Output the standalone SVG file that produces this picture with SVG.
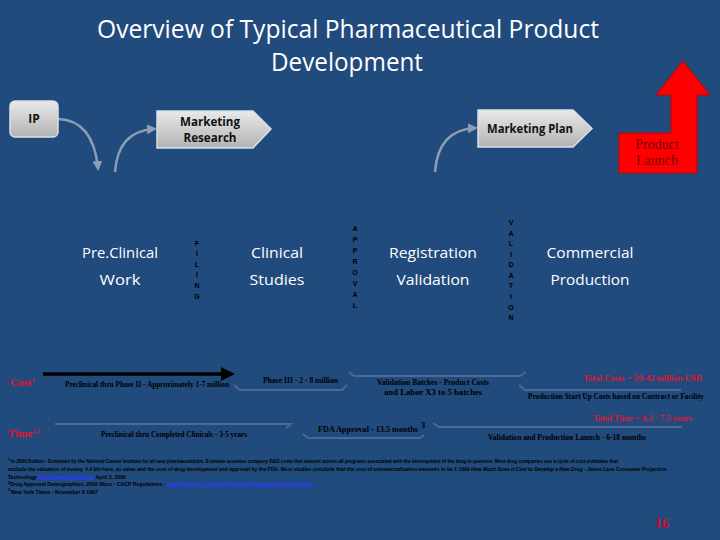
<svg xmlns="http://www.w3.org/2000/svg" width="720" height="540" viewBox="0 0 720 540">
<defs>
<linearGradient id="gbox" x1="0" y1="0" x2="0" y2="1">
<stop offset="0" stop-color="#e9e9e9"/><stop offset="1" stop-color="#b3b3b3"/>
</linearGradient>
<marker id="ah" viewBox="0 0 10 10" refX="7" refY="5" markerWidth="4" markerHeight="4" orient="auto"><path d="M0,0 L10,5 L0,10 Z" fill="#8c9db6"/></marker>
<marker id="bh" viewBox="0 0 10 10" refX="8" refY="5" markerWidth="4" markerHeight="4" orient="auto"><path d="M0,0 L10,5 L0,10 Z" fill="#000"/></marker>
<style>
.title{font-family:"Open Sans","Noto Sans",sans-serif;font-size:25px;fill:#fff;text-anchor:middle}
.box{fill:url(#gbox);stroke:#d9dee8;stroke-width:1.5}
.bl{font-family:"Open Sans","Noto Sans",sans-serif;font-weight:bold;font-size:12px;fill:#111;text-anchor:middle}
.stage{font-family:"Open Sans","Noto Sans",sans-serif;font-size:15px;fill:#fff;text-anchor:middle}
.vert{font-family:"Liberation Sans",sans-serif;font-weight:bold;font-size:7px;fill:#000;text-anchor:middle}
.sm{font-family:"Liberation Serif",serif;font-size:8.5px;font-weight:bold;fill:#000}
.smc{font-family:"Liberation Serif",serif;font-size:8.5px;font-weight:bold;fill:#000;text-anchor:middle}
.red{font-family:"Liberation Serif",serif;font-weight:bold;fill:#e8102e}
.conn{fill:none;stroke:#8c9db6;stroke-width:2.5}
.br{fill:none;stroke:#4b6a98;stroke-width:2}
.fn{font-family:"Liberation Sans",sans-serif;font-size:5.2px;font-weight:bold;fill:#000}
.sup{font-family:"Liberation Sans",sans-serif;font-size:4px;font-weight:bold;fill:#000}
.lk{fill:#2b3bff;text-decoration:underline}
</style>
</defs>
<rect width="720" height="540" fill="#214a7d"/>
<g id="title">
<text class="title" x="348" y="38" textLength="502" lengthAdjust="spacingAndGlyphs">Overview of Typical Pharmaceutical Product</text>
<text class="title" x="347" y="71" textLength="152" lengthAdjust="spacingAndGlyphs">Development</text>
</g>
<g id="connectors">
<path class="conn" d="M58,119 Q93,120 98,168" marker-end="url(#ah)"/>
<path class="conn" d="M115,172 Q118,131 154,129" marker-end="url(#ah)"/>
<path class="conn" d="M435,172 Q438,130 475,128" marker-end="url(#ah)"/>
<line x1="43" y1="374" x2="232" y2="374" stroke="#000" stroke-width="3.5" marker-end="url(#bh)"/>
<polyline class="br" points="234,385 240,390 342,390 347,385"/>
<polyline class="br" points="349,372 354,376 520,376 526,372"/>
<polyline class="br" points="519,385 525,390 681,390"/>
<polyline class="br" points="55,424 291,424 286,428"/>
<polyline class="br" points="303,434 308,438 420,438 424,435"/>
<polyline class="br" points="433,423 439,427 682,427"/>
</g>
<g id="ip">
<rect class="box" x="10" y="101" width="48" height="36" rx="5"/>
<text class="bl" x="34" y="123">IP</text>
</g>
<g id="marketing-research">
<path class="box" d="M157,111 H253 L271,129 L253,148 H157 Z"/>
<text class="bl" x="210" y="126" textLength="60" lengthAdjust="spacingAndGlyphs">Marketing</text>
<text class="bl" x="210" y="142" textLength="53" lengthAdjust="spacingAndGlyphs">Research</text>
</g>
<g id="marketing-plan">
<path class="box" d="M478,110 H573 L592,128.5 L573,147 H478 Z"/>
<text class="bl" x="530" y="133" textLength="86" lengthAdjust="spacingAndGlyphs">Marketing Plan</text>
</g>
<g id="product-launch">
<path d="M619,133 H671 V95 H656 L683,61 L710,95 H697 V173 H619 Z" fill="#ff0000" stroke="#c00000" stroke-width="1"/>
<text x="657" y="149" font-family="Liberation Serif,serif" font-size="14" fill="#7a0000" text-anchor="middle">Product</text>
<text x="657" y="165" font-family="Liberation Serif,serif" font-size="14" fill="#7a0000" text-anchor="middle">Launch</text>
</g>
<g id="preclinical">
<text class="stage" x="120" y="258" textLength="76" lengthAdjust="spacingAndGlyphs">Pre.Clinical</text>
<text class="stage" x="120" y="285" textLength="41" lengthAdjust="spacingAndGlyphs">Work</text>
</g>
<g id="clinical">
<text class="stage" x="277" y="258" textLength="52" lengthAdjust="spacingAndGlyphs">Clinical</text>
<text class="stage" x="277" y="285" textLength="55" lengthAdjust="spacingAndGlyphs">Studies</text>
</g>
<g id="registration">
<text class="stage" x="433" y="258" textLength="88" lengthAdjust="spacingAndGlyphs">Registration</text>
<text class="stage" x="433" y="285" textLength="73" lengthAdjust="spacingAndGlyphs">Validation</text>
</g>
<g id="commercial">
<text class="stage" x="590" y="258" textLength="87" lengthAdjust="spacingAndGlyphs">Commercial</text>
<text class="stage" x="590" y="285" textLength="79" lengthAdjust="spacingAndGlyphs">Production</text>
</g>
<g id="filing">
<text class="vert" x="197" y="246">F</text><text class="vert" x="197" y="256">I</text><text class="vert" x="197" y="267">L</text><text class="vert" x="197" y="277">I</text><text class="vert" x="197" y="288">N</text><text class="vert" x="197" y="299">G</text>
</g>
<g id="approval">
<text class="vert" x="355" y="231">A</text><text class="vert" x="355" y="242">P</text><text class="vert" x="355" y="253">P</text><text class="vert" x="355" y="264">R</text><text class="vert" x="355" y="275">O</text><text class="vert" x="355" y="286">V</text><text class="vert" x="355" y="297">A</text><text class="vert" x="355" y="308">L</text>
</g>
<g id="validation">
<text class="vert" x="511" y="225">V</text><text class="vert" x="511" y="236">A</text><text class="vert" x="511" y="246">L</text><text class="vert" x="511" y="257">I</text><text class="vert" x="511" y="267">D</text><text class="vert" x="511" y="278">A</text><text class="vert" x="511" y="288">T</text><text class="vert" x="511" y="299">I</text><text class="vert" x="511" y="310">O</text><text class="vert" x="511" y="320">N</text>
</g>
<g id="cost-row">
<text class="red" x="10" y="386" font-size="11">Cost<tspan font-size="6" dy="-4">1</tspan></text>
<text class="sm" x="65" y="387" textLength="164" lengthAdjust="spacingAndGlyphs">Preclinical thru Phase II - Approximately 1-7 million</text>
<text class="sm" x="263" y="383" textLength="75" lengthAdjust="spacingAndGlyphs">Phase III - 2 - 8 million</text>
<text class="smc" x="433" y="385" textLength="112" lengthAdjust="spacingAndGlyphs">Validation Batches - Product Costs</text>
<text class="smc" x="433" y="395" textLength="98" lengthAdjust="spacingAndGlyphs">and Labor X3 to 5 batches</text>
<text class="red" x="583" y="381" font-size="8" textLength="119" lengthAdjust="spacingAndGlyphs">Total Costs = 20-42 million USD</text>
<text class="sm" x="528" y="399" textLength="176" lengthAdjust="spacingAndGlyphs">Production Start Up Costs based on Contract or Facility</text>
</g>
<g id="time-row">
<text class="red" x="8" y="437" font-size="11">Time<tspan font-size="6" dy="-4">2,3</tspan></text>
<text class="sm" x="101" y="437" textLength="146" lengthAdjust="spacingAndGlyphs">Preclinical thru Completed Clinicals - 3-5 years</text>
<text class="sm" x="318" y="432" textLength="100" lengthAdjust="spacingAndGlyphs">FDA Approval - 13.5 months</text><text class="sm" x="421" y="428" font-size="5">3</text>
<text class="red" x="593" y="421" font-size="8" textLength="99" lengthAdjust="spacingAndGlyphs">Total Time = 4.2 - 7.5 years</text>
<text class="sm" x="488" y="440" textLength="158" lengthAdjust="spacingAndGlyphs">Validation and Production Launch - 6-18 months</text>
</g>
<g id="footnotes">
<text class="sup" x="8" y="461">1</text>
<text class="fn" x="11" y="463" textLength="607" lengthAdjust="spacingAndGlyphs">In 2000 Dollars - Estimates by the National Cancer Institute for all new pharmaceuticals. Estimate assumes company R&amp;D costs that amount across all programs associated with the development of the drug in question. Most drug companies use a cycle of cost estimates that</text>
<text class="fn" x="8" y="471" textLength="660" lengthAdjust="spacingAndGlyphs">exclude the valuation of money. 4.4 bln here, as value and the cost of drug development and approval by the FDA. Most studies conclude that the cost of commercialization amounts to be 1 1999 <tspan font-style="italic">How Much Does it Cost to Develop a New Drug</tspan> - Janus Lave Consumer Projection.</text>
<text class="fn" x="8" y="478.5">Technology <tspan class="lk">http://www.mdtech.org</tspan> April 3, 2000</text>
<text class="sup" x="8" y="483.5">2</text>
<text class="fn" x="10" y="486">Drug Approval Demographics, 2002 Wurs - CACP Regulations - <tspan class="lk">http://www.ncn.com/cdr/regulation/drugapproval/index.htm</tspan></text>
<text class="sup" x="8" y="491">3</text>
<text class="fn" x="11" y="493.5">New York Times - November 8 1997</text>
</g>
<text x="655" y="528" font-family="Liberation Serif,serif" font-weight="bold" font-size="14" fill="#c8102e">16</text>
</svg>
